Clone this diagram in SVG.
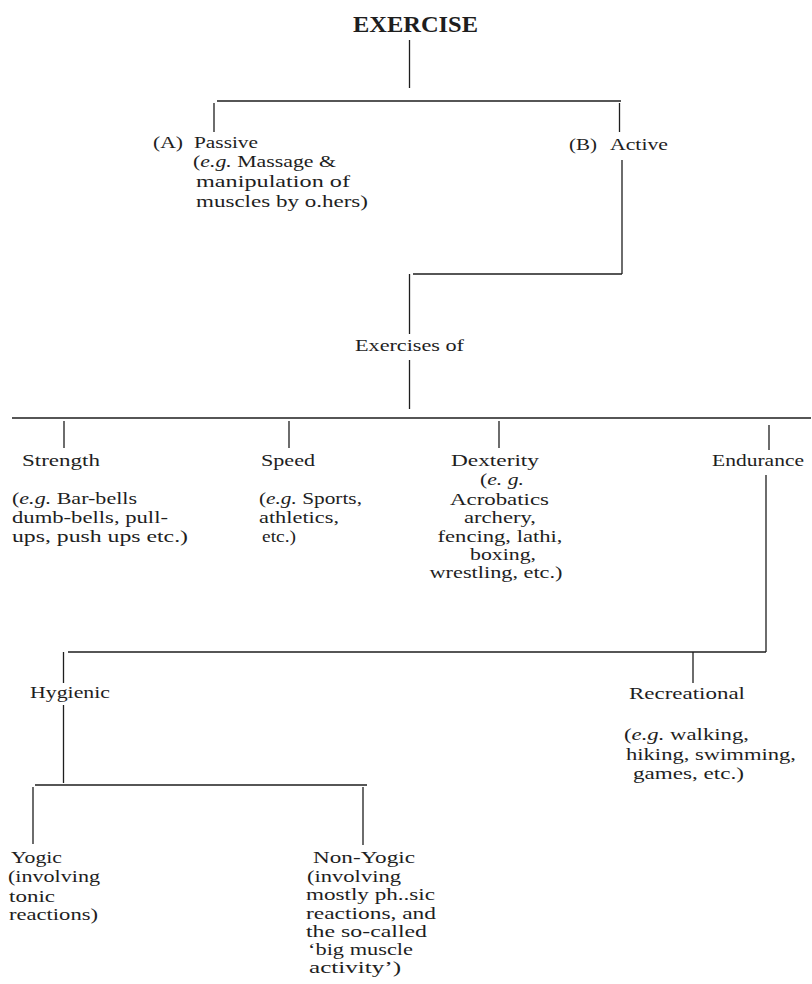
<svg xmlns="http://www.w3.org/2000/svg" width="812" height="984" viewBox="0 0 812 984">
<style>
text{font-family:"Liberation Serif","Times New Roman",serif;font-size:17px;fill:#1e1e1e}
.t{font-size:24px;font-weight:bold}
.i{font-style:italic}
.c{text-anchor:middle}
#connectors path{stroke:#1e1e1e;stroke-width:1.3;fill:none}
</style>
<rect width="812" height="984" fill="#ffffff"/>
<g id="connectors">
<path d="M409.5 40V88"/>
<path d="M217 101H621"/>
<path d="M214 103V132"/>
<path d="M619.5 103V132"/>
<path d="M622 160V274"/>
<path d="M413 274H622"/>
<path d="M409.5 274V334"/>
<path d="M409.5 360V409"/>
<path d="M12 418H811"/>
<path d="M64 421V448"/>
<path d="M289 421V448"/>
<path d="M499 421V448"/>
<path d="M769 425V450"/>
<path d="M766 475V652"/>
<path d="M68 652H766"/>
<path d="M63.5 652V683M63.5 705V783"/>
<path d="M693 652V683"/>
<path d="M35 785H367"/>
<path d="M33 787V844"/>
<path d="M363 787V845"/>
</g>
<g id="exercise"><text class="t" x="353" y="32" textLength="125" lengthAdjust="spacingAndGlyphs">EXERCISE</text></g>
<g id="passive">
<text x="153" y="148" textLength="30" lengthAdjust="spacingAndGlyphs">(A)</text>
<text x="194" y="148" textLength="64" lengthAdjust="spacingAndGlyphs">Passive</text>
<text x="193" y="167" textLength="143" lengthAdjust="spacingAndGlyphs">(<tspan class="i">e.g.</tspan> Massage &amp;</text>
<text x="196" y="187" textLength="154" lengthAdjust="spacingAndGlyphs">manipulation of</text>
<text x="196" y="207" textLength="172" lengthAdjust="spacingAndGlyphs">muscles by o.hers)</text>
</g>
<g id="active">
<text x="569" y="150" textLength="28" lengthAdjust="spacingAndGlyphs">(B)</text>
<text x="610" y="150" textLength="58" lengthAdjust="spacingAndGlyphs">Active</text>
</g>
<g id="exercises-of"><text x="355" y="351" textLength="109" lengthAdjust="spacingAndGlyphs">Exercises of</text></g>
<g id="strength">
<text x="22" y="466" textLength="78" lengthAdjust="spacingAndGlyphs">Strength</text>
<text x="12" y="504" textLength="125" lengthAdjust="spacingAndGlyphs">(<tspan class="i">e.g.</tspan> Bar-bells</text>
<text x="12" y="523" textLength="156" lengthAdjust="spacingAndGlyphs">dumb-bells, pull-</text>
<text x="12" y="542" textLength="176" lengthAdjust="spacingAndGlyphs">ups, push ups etc.)</text>
</g>
<g id="speed">
<text x="261" y="466" textLength="54" lengthAdjust="spacingAndGlyphs">Speed</text>
<text x="259" y="504" textLength="103" lengthAdjust="spacingAndGlyphs">(<tspan class="i">e.g.</tspan> Sports,</text>
<text x="259" y="523" textLength="80" lengthAdjust="spacingAndGlyphs">athletics,</text>
<text x="262" y="542" textLength="34" lengthAdjust="spacingAndGlyphs">etc.)</text>
</g>
<g id="dexterity">
<text class="c" x="495" y="466" textLength="88" lengthAdjust="spacingAndGlyphs">Dexterity</text>
<text class="c" x="502" y="485" textLength="44" lengthAdjust="spacingAndGlyphs">(<tspan class="i">e. g.</tspan></text>
<text class="c" x="499.5" y="505" textLength="99" lengthAdjust="spacingAndGlyphs">Acrobatics</text>
<text class="c" x="500" y="523" textLength="72" lengthAdjust="spacingAndGlyphs">archery,</text>
<text class="c" x="500" y="542" textLength="125" lengthAdjust="spacingAndGlyphs">fencing, lathi,</text>
<text class="c" x="503" y="560" textLength="66" lengthAdjust="spacingAndGlyphs">boxing,</text>
<text class="c" x="496" y="578" textLength="133" lengthAdjust="spacingAndGlyphs">wrestling, etc.)</text>
</g>
<g id="endurance"><text x="712" y="466" textLength="92" lengthAdjust="spacingAndGlyphs">Endurance</text></g>
<g id="hygienic"><text x="30" y="698" textLength="80" lengthAdjust="spacingAndGlyphs">Hygienic</text></g>
<g id="recreational">
<text x="629" y="699" textLength="116" lengthAdjust="spacingAndGlyphs">Recreational</text>
<text x="624" y="740" textLength="125" lengthAdjust="spacingAndGlyphs">(<tspan class="i">e.g.</tspan> walking,</text>
<text x="626" y="760" textLength="170" lengthAdjust="spacingAndGlyphs">hiking, swimming,</text>
<text x="633" y="779" textLength="111" lengthAdjust="spacingAndGlyphs">games, etc.)</text>
</g>
<g id="yogic">
<text x="11" y="863" textLength="51" lengthAdjust="spacingAndGlyphs">Yogic</text>
<text x="8" y="882" textLength="92" lengthAdjust="spacingAndGlyphs">(involving</text>
<text x="9" y="902" textLength="46" lengthAdjust="spacingAndGlyphs">tonic</text>
<text x="9" y="920" textLength="89" lengthAdjust="spacingAndGlyphs">reactions)</text>
</g>
<g id="non-yogic">
<text x="313" y="863" textLength="102" lengthAdjust="spacingAndGlyphs">Non-Yogic</text>
<text x="307" y="882" textLength="94" lengthAdjust="spacingAndGlyphs">(involving</text>
<text x="306" y="900" textLength="129" lengthAdjust="spacingAndGlyphs">mostly ph..sic</text>
<text x="306" y="919" textLength="130" lengthAdjust="spacingAndGlyphs">reactions, and</text>
<text x="306" y="937" textLength="121" lengthAdjust="spacingAndGlyphs">the so-called</text>
<text x="308" y="955" textLength="105" lengthAdjust="spacingAndGlyphs">‘big muscle</text>
<text x="309" y="973" textLength="92" lengthAdjust="spacingAndGlyphs">activity’)</text>
</g>
</svg>
